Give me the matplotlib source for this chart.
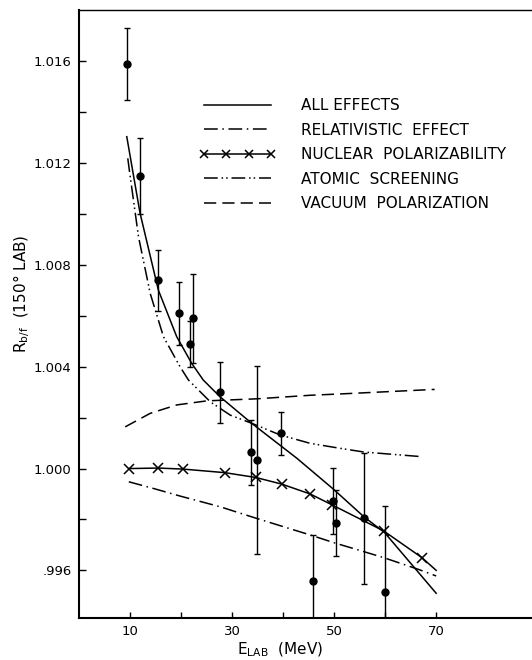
import matplotlib
matplotlib.use('Agg')
import matplotlib.pyplot as plt
from matplotlib.lines import Line2D

plt.rcParams['font.family'] = ['DejaVu Sans']

# measured points with error bars
pt_E = [9.3, 11.8, 15.5, 19.6, 21.7, 22.2, 27.6, 33.6, 34.8, 39.6, 45.9, 49.7, 50.4, 55.8, 60.0]
pt_R = [1.0159, 1.0115, 1.0074, 1.0061, 1.0049, 1.0059, 1.0030, 1.00064, 1.00033,
        1.00138, 0.99558, 0.99871, 0.99787, 0.99804, 0.99514]
pt_err = [0.0014, 0.0015, 0.0012, 0.00123, 0.0009, 0.00175, 0.0012, 0.00127, 0.0037,
          0.00084, 0.0018, 0.0013, 0.0013, 0.00257, 0.0034]

# theory curves
all_E = [9.3, 11.9, 15.5, 19.1, 22.05, 24.3, 27.6, 33.8, 42.7, 49.9, 55.8, 59.9, 70.0]
all_R = [1.01304, 1.01004, 1.00701, 1.00518, 1.00413, 1.00348, 1.00282,
         1.00178, 1.0004, 0.99918, 0.99811, 0.99748, 0.99510]

rel_E = [9.7, 14.5, 19.75, 27.6, 34.8, 45.3, 50.2, 54.75, 59.7, 66.5, 70.0]
rel_R = [0.99948, 0.99922, 0.99892, 0.9985, 0.99804, 0.99739, 0.99707, 0.9968,
         0.9965, 0.99604, 0.99578]

nuc_E = [9.7, 15.5, 20.3, 28.5, 34.6, 39.7, 45.3, 49.6, 59.7, 67.2]
nuc_R = [1.0000, 1.00002, 0.99998, 0.99984, 0.99965, 0.99939, 0.999, 0.99857, 0.99755, 0.9965]
nuc_tail_E = [67.2, 70.0]
nuc_tail_R = [0.9965, 0.9960]

atom_E = [9.5, 9.8, 11.6, 13.9, 16.5, 19.75, 21.4, 25.7, 29.6, 33.8, 39.4, 45.3, 51.0, 55.8, 67.0]
atom_R = [1.01219, 1.01173, 1.00911, 1.00688, 1.00518, 1.004, 1.00348, 1.00262, 1.0021,
          1.00178, 1.00132, 1.00099, 1.0008, 1.00065, 1.00047]

vac_E = [9.0, 13.9, 19.1, 25.0, 34.8, 45.3, 51.0, 69.7]
vac_R = [1.00164, 1.00217, 1.0025, 1.00266, 1.00274, 1.00288, 1.00293, 1.00311]

labels = ['ALL EFFECTS', 'RELATIVISTIC  EFFECT', 'NUCLEAR  POLARIZABILITY',
          'ATOMIC  SCREENING', 'VACUUM  POLARIZATION']

y_ticks = [0.996, 1.000, 1.004, 1.008, 1.012, 1.016]
y_ticklabels = ['.996', '1.000', '1.004', '1.008', '1.012', '1.016']
y_minor = [0.998, 1.002, 1.006, 1.010, 1.014]
x_ticks = [10, 30, 50, 70]
x_minor = [20, 40, 60]

fig = plt.figure(figsize=(5.32, 6.6), dpi=100)
ax = fig.add_axes([78.5 / 532, 1 - 617.7 / 660, (532 - 78.5) / 532, 607.5 / 660])

lw = 1.1
dash_rel = (0, (9, 3, 1, 3))
dash_atom = (0, (9, 2.5, 1, 2, 1, 2.5))
dash_vac = (0, (8, 4))

ax.plot(all_E, all_R, color='k', lw=lw)
ax.plot(rel_E, rel_R, color='k', lw=lw, ls=dash_rel)
ax.plot(nuc_E, nuc_R, color='k', lw=lw, marker='x', ms=7, mew=1.1)
ax.plot(nuc_tail_E, nuc_tail_R, color='k', lw=lw)
ax.plot(atom_E, atom_R, color='k', lw=lw, ls=dash_atom)
ax.plot(vac_E, vac_R, color='k', lw=lw, ls=dash_vac)

ax.errorbar(pt_E, pt_R, yerr=pt_err, fmt='o', color='k', ms=5,
            elinewidth=1, capsize=2.4, capthick=1)

handles = [Line2D([], [], color='k', lw=lw),
           Line2D([], [], color='k', lw=lw, ls=dash_rel),
           Line2D([], [], color='k', lw=lw, marker='x', ms=6, mew=1.1),
           Line2D([], [], color='k', lw=lw, ls=dash_atom),
           Line2D([], [], color='k', lw=lw, ls=dash_vac)]
ax.legend(handles, labels, loc='upper left', bbox_to_anchor=(0.266, 0.855),
          frameon=False, fontsize=11, handlelength=5.0, handletextpad=1.7,
          labelspacing=0.62, borderpad=0, borderaxespad=0, numpoints=4)

ax.set_xlim(-0.17, 88.8)
ax.set_ylim(0.99414, 1.01801)

ax.set_xticks(x_ticks)
ax.set_xticks(x_minor, minor=True)
ax.set_yticks(y_ticks)
ax.set_yticklabels(y_ticklabels)
ax.set_yticks(y_minor, minor=True)
ax.tick_params(which='both', direction='in', width=1, labelsize=9.5, pad=5)
ax.tick_params(axis='y', which='both', length=5)
ax.tick_params(axis='x', which='both', length=4)

ax.spines['right'].set_visible(False)
ax.spines['left'].set_linewidth(1.5)
ax.spines['bottom'].set_linewidth(1.5)
ax.spines['top'].set_linewidth(1.0)

ax.set_xlabel(r'E$_{\rm LAB}$  (MeV)', fontsize=11)
ax.xaxis.set_label_coords(0.4435, -0.038)
ax.set_ylabel(r'R$_{\rm b/f}$  (150° LAB)', fontsize=11)
ax.yaxis.set_label_coords(-0.103, 0.533)

fig.savefig('out.png', dpi=100)
